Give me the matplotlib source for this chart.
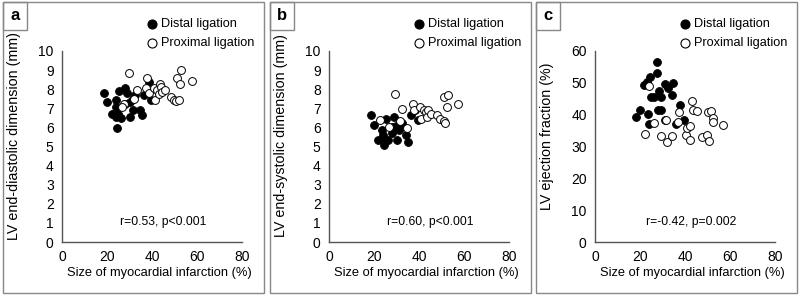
import matplotlib
matplotlib.use("Agg")
import matplotlib.pyplot as plt
from matplotlib.patches import Rectangle
from matplotlib.lines import Line2D

plt.rcParams['font.family'] = ['Liberation Sans', 'DejaVu Sans']

# Panel a: LV end-diastolic dimension
a_distal_x = [18.7, 20.2, 22.0, 23.9, 24.2, 23.9, 25.0, 24.4, 25.5, 26.4, 28.2, 29.1, 28.2, 30.0,
              30.0, 31.4, 31.7, 32.5, 34.7, 35.4, 36.5, 38.5, 39.4]
a_distal_y = [7.82, 7.31, 6.70, 7.42, 7.07, 6.53, 6.72, 5.95, 7.89, 6.51, 8.06, 7.82, 7.24, 7.35,
              6.53, 6.93, 7.47, 7.71, 6.89, 6.63, 7.71, 8.39, 7.45]
a_prox_x = [29.8, 33.2, 37.6, 37.3, 38.8, 40.7, 41.3, 42.1, 42.9, 43.5, 44.0, 44.6, 45.8, 48.3,
            49.7, 50.5, 52.0, 51.2, 52.9, 52.6, 57.7, 27.7, 26.6, 32.2]
a_prox_y = [8.85, 7.94, 8.60, 8.05, 7.80, 8.05, 7.42, 7.94, 7.77, 8.29, 8.12, 7.84, 7.98, 7.59,
            7.45, 7.36, 7.42, 8.59, 9.02, 8.25, 8.43, 7.20, 7.07, 7.50]

# Panel b: LV end-systolic dimension
b_distal_x = [18.5, 20.2, 21.8, 23.6, 23.9, 24.4, 24.1, 25.4, 26.1, 27.9, 28.8, 28.0, 29.8, 30.1,
              31.3, 31.7, 32.5, 34.4, 35.3, 36.5, 38.4, 39.7]
b_distal_y = [6.63, 6.14, 5.36, 5.85, 5.32, 5.10, 5.58, 6.46, 5.32, 6.02, 6.54, 5.71, 6.06, 5.36,
              5.85, 6.11, 6.23, 5.58, 5.24, 6.63, 6.93, 6.40]
b_prox_x = [29.5, 32.5, 22.6, 26.6, 31.7, 34.7, 37.3, 37.6, 40.6, 40.9, 42.1, 43.1, 43.5, 43.8,
            45.5, 48.0, 49.4, 50.9, 51.7, 50.9, 52.7, 52.4, 57.4]
b_prox_y = [7.73, 6.95, 6.37, 6.02, 6.32, 5.97, 7.24, 6.93, 7.07, 6.42, 6.89, 6.82, 6.54, 6.89,
            6.72, 6.63, 6.46, 6.32, 6.23, 7.59, 7.68, 7.07, 7.24]

# Panel c: LV ejection fraction
c_distal_x = [18.2, 19.9, 21.8, 23.3, 24.4, 23.6, 24.1, 25.1, 26.1, 27.6, 27.7, 28.5, 28.1, 29.2,
              29.5, 31.1, 31.0, 32.3, 34.0, 34.7, 37.9, 36.2, 39.4]
c_distal_y = [39.3, 41.6, 49.4, 50.3, 51.8, 40.1, 37.2, 45.5, 45.5, 53.1, 56.5, 47.3, 41.6, 45.5,
              41.4, 49.7, 38.2, 48.5, 46.1, 50.1, 43.1, 37.0, 38.2]
c_prox_x = [22.3, 24.0, 26.1, 29.4, 31.7, 32.2, 34.4, 37.0, 37.3, 40.6, 40.9, 42.1, 42.4, 43.0,
            43.5, 45.2, 47.7, 49.6, 50.6, 50.0, 51.7, 52.3, 52.3, 57.1]
c_prox_y = [33.8, 49.0, 37.4, 33.2, 38.2, 31.4, 33.2, 37.7, 40.8, 33.5, 35.9, 36.3, 32.0, 44.2,
            41.6, 41.0, 33.0, 33.5, 31.7, 40.8, 41.1, 39.1, 37.6, 36.9]

panel_labels = ['a', 'b', 'c']
y_labels = ['LV end-diastolic dimension (mm)', 'LV end-systolic dimension (mm)',
            'LV ejection fraction (%)']
x_label = 'Size of myocardial infarction (%)'
stats = ['r=0.53, p<0.001', 'r=0.60, p<0.001', 'r=-0.42, p=0.002']
y_ranges = [(0, 10, 1), (0, 10, 1), (0, 60, 10)]
x_ticks = [0, 20, 40, 60, 80]
legend_labels = ['Distal ligation', 'Proximal ligation']

data = [
    (a_distal_x, a_distal_y, a_prox_x, a_prox_y),
    (b_distal_x, b_distal_y, b_prox_x, b_prox_y),
    (c_distal_x, c_distal_y, c_prox_x, c_prox_y),
]

W, H = 800, 297
fig = plt.figure(figsize=(8, 2.97), dpi=100)
fig.patch.set_facecolor('white')

panel_offsets = [0, 267, 533]
spine_color = '#555555'
for i, off in enumerate(panel_offsets):
    # panel border
    fig.add_artist(Rectangle(((off + 3) / W, (H - 293) / H), 261 / W, 291 / H,
                             transform=fig.transFigure, fill=False, ec='#888888', lw=1.0))
    # label box
    fig.add_artist(Rectangle(((off + 3) / W, (H - 30) / H), 24 / W, 28 / H,
                             transform=fig.transFigure, fill=False, ec='#888888', lw=1.0))
    fig.text((off + 15) / W, (H - 16) / H, panel_labels[i], fontsize=12, fontweight='bold',
             ha='center', va='center')

    ax = fig.add_axes([(off + 62) / W, (H - 242) / H, 180 / W, 191 / H])
    dx, dy, px, py = data[i]
    ax.scatter(dx, dy, s=32, c='black', edgecolors='black', linewidths=0.6, zorder=3)
    ax.scatter(px, py, s=32, facecolors='white', edgecolors='black', linewidths=0.7, zorder=3)
    y0, y1, ystep = y_ranges[i]
    ax.set_xlim(0, 80)
    ax.set_ylim(y0, y1)
    ax.set_xticks(x_ticks)
    ax.set_yticks(list(range(y0, y1 + 1, ystep)))
    ax.tick_params(length=0, labelsize=10, pad=6)
    for s in ['top', 'right']:
        ax.spines[s].set_visible(False)
    for s in ['left', 'bottom']:
        ax.spines[s].set_color(spine_color)
        ax.spines[s].set_linewidth(1.0)
    ax.set_xlabel(x_label, fontsize=9.3)
    ax.xaxis.set_label_coords(0.54, -0.13)
    ax.set_ylabel(y_labels[i], fontsize=10.3)
    ax.yaxis.set_label_coords(-0.225, 0.555)
    ax.set_facecolor('none')
    ax.text(0.5625 if i < 2 else 0.535, 0.106, stats[i], transform=ax.transAxes,
            ha='center', va='center', fontsize=8.7)

    # legend
    for j, lab in enumerate(legend_labels):
        yy = (H - (24 + 19 * j)) / H
        fig.add_artist(Line2D([(off + 152) / W], [yy], transform=fig.transFigure, marker='o',
                              markersize=6.5, markerfacecolor='black' if j == 0 else 'white',
                              markeredgecolor='black', markeredgewidth=0.8, linestyle='none'))
        fig.text((off + 161) / W, yy, lab, fontsize=9.2, ha='left', va='center')

fig.savefig('out.png', dpi=100, facecolor='white')
